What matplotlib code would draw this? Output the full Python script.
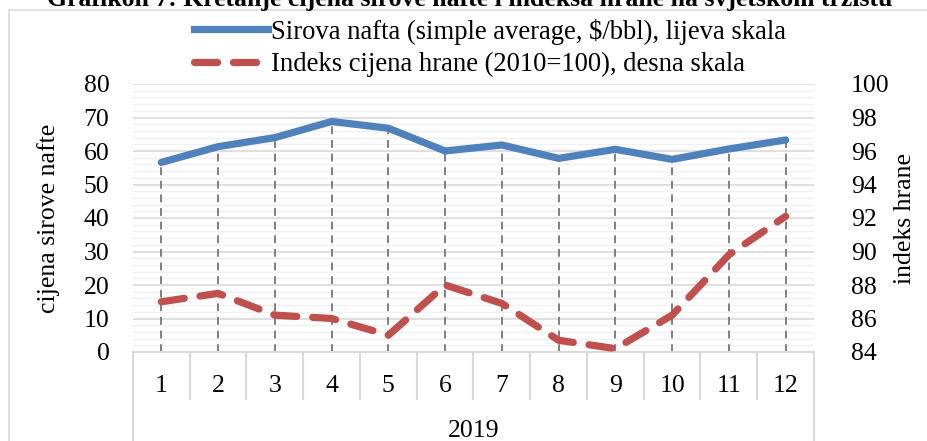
import matplotlib
matplotlib.use("Agg")
import matplotlib.pyplot as plt
from matplotlib.lines import Line2D
from matplotlib.patches import Rectangle
from matplotlib.ticker import MultipleLocator

months = ["1", "2", "3", "4", "5", "6", "7", "8", "9", "10", "11", "12"]
year_label = "2019"
oil = [56.6, 61.3, 64.0, 68.8, 66.8, 60.0, 61.8, 57.8, 60.5, 57.5, 60.6, 63.3]
food = [87.0, 87.5, 86.2, 86.0, 85.0, 88.0, 86.9, 84.7, 84.2, 86.2, 89.8, 92.1]
oil_label = "Sirova nafta (simple average, $/bbl), lijeva skala"
food_label = "Indeks cijena hrane (2010=100), desna skala"
left_title = "cijena sirove nafte"
right_title = "indeks hrane"
chart_title = "Grafikon 7: Kretanje cijena sirove nafte i indeksa hrane na svjetskom tržištu"

BLUE = "#4F81BD"
RED = "#C0504D"
GRID = "#d9d9d9"
MINOR = "#f0f0f0"
FS = 18.5
LFS = 19.2

plt.rcParams["font.family"] = ["Liberation Serif", "DejaVu Serif"]

W, H = 928, 441
fig = plt.figure(figsize=(W / 100, H / 100), dpi=100)

def fx(px):
    return px / W

def fy(py):
    return 1 - py / H

x0, x1, ytop, ybot = 133, 814, 84, 352
ax = fig.add_axes([fx(x0), fy(ybot), fx(x1) - fx(x0), fy(ytop) - fy(ybot)])
ax2 = ax.twinx()

xs = list(range(1, len(months) + 1))

# frame
fig.patches.append(Rectangle((fx(9), -0.2), 2, fy(10) + 0.2, transform=fig.transFigure,
                             fill=False, edgecolor=GRID, lw=1.2, zorder=0))

ax.set_xlim(0.5, len(months) + 0.5)
ax.set_ylim(0, 80)
ax2.set_ylim(84, 100)
ax.yaxis.set_major_locator(MultipleLocator(10))
ax.yaxis.set_minor_locator(MultipleLocator(2))
ax2.yaxis.set_major_locator(MultipleLocator(2))
ax.grid(which="major", axis="y", color=GRID, lw=1.2)
ax.grid(which="minor", axis="y", color=MINOR, lw=1.0)
ax.set_axisbelow(True)
for a in (ax, ax2):
    for s in a.spines.values():
        s.set_visible(False)
    a.tick_params(which="both", length=0, labelsize=FS)
ax.set_xticks([])
ax.tick_params(axis="y", pad=17)
ax2.tick_params(axis="y", pad=26.5)

# drop lines
ax.vlines(xs, 0, oil, colors="#7f7f7f", linestyles=(0, (4, 3)), lw=1.4, zorder=2)
ax.plot(xs, oil, color=BLUE, lw=5.2, solid_capstyle="round", solid_joinstyle="round", zorder=3)
ax2.plot(xs, food, color=RED, lw=5.2, linestyle=(0, (3.2, 2.2)), dash_capstyle="round", zorder=3)

ax.set_ylabel(left_title, fontsize=FS, labelpad=17)
ax2.set_ylabel(right_title, fontsize=FS, labelpad=3)

# category box
tr = ax.get_xaxis_transform()
ax.plot([0.5, len(months) + 0.5], [0, 0], color=GRID, lw=1.5, transform=tr, clip_on=False)
h_box = -(399 - 352) / (ybot - ytop)
h_full = -0.5
for i in range(len(months) + 1):
    b = 0.5 + i
    low = h_full if i in (0, len(months)) else h_box
    ax.plot([b, b], [0, low], color=GRID, lw=1.5, transform=tr, clip_on=False)
for x, m in zip(xs, months):
    ax.text(x, -(386 - 352) / (ybot - ytop), m, transform=tr, ha="center", va="center", fontsize=FS)
ax.text((len(months) + 1) / 2, -(431 - 352) / (ybot - ytop), year_label, transform=tr,
        ha="center", va="center", fontsize=FS)

# legend
handles = [Line2D([], [], color=BLUE, lw=5.2),
           Line2D([], [], color=RED, lw=5.2, linestyle=(0, (3.2, 2.2)), dash_capstyle="round")]
fig.legend(handles, [oil_label, food_label], loc="upper left",
           bbox_to_anchor=(fx(175), fy(0)), frameon=False, fontsize=LFS,
           handlelength=2.8, handletextpad=0.1, labelspacing=0.28, borderpad=0.2)

fig.text(fx(470), fy(6), chart_title, ha="center", va="baseline", fontsize=FS,
         fontweight="bold")

fig.savefig("out.png", dpi=100)
